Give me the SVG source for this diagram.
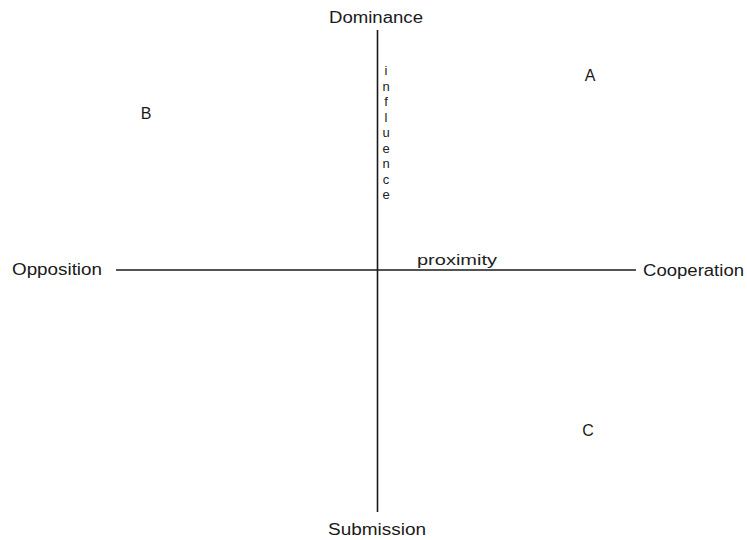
<svg xmlns="http://www.w3.org/2000/svg" width="747" height="540" viewBox="0 0 747 540">
<style>
.lbl{font-family:"Liberation Sans",Arial,sans-serif;font-size:16px;fill:#1a1a1a}
.ax{stroke:#1a1a1a;stroke-width:1.6;fill:none}
.sm{font-family:"Liberation Sans",Arial,sans-serif;font-size:15px;fill:#222}
.vl{font-family:"Liberation Sans",Arial,sans-serif;font-size:13px;fill:#222}
</style>
<rect width="747" height="540" fill="#ffffff"/>
<g id="connectors">
<line class="ax" x1="377.5" y1="30" x2="377.5" y2="512"/>
<line class="ax" x1="116" y1="270" x2="636" y2="270"/>
</g>
<g id="dominance"><text class="lbl" x="376" y="23" text-anchor="middle" textLength="94" lengthAdjust="spacingAndGlyphs">Dominance</text></g>
<g id="submission"><text class="lbl" x="377" y="535" text-anchor="middle" textLength="98" lengthAdjust="spacingAndGlyphs">Submission</text></g>
<g id="opposition"><text class="lbl" x="12" y="275" textLength="90" lengthAdjust="spacingAndGlyphs">Opposition</text></g>
<g id="cooperation"><text class="lbl" x="643" y="276" textLength="101" lengthAdjust="spacingAndGlyphs">Cooperation</text></g>
<g id="proximity"><text class="sm" x="417" y="265" textLength="80" lengthAdjust="spacingAndGlyphs">proximity</text></g>
<g id="influence" text-anchor="middle">
<text class="vl" x="386" y="75">i</text>
<text class="vl" x="386" y="90.5">n</text>
<text class="vl" x="386" y="106">f</text>
<text class="vl" x="386" y="121.5">l</text>
<text class="vl" x="386" y="137">u</text>
<text class="vl" x="386" y="152.5">e</text>
<text class="vl" x="386" y="168">n</text>
<text class="vl" x="386" y="183.5">c</text>
<text class="vl" x="386" y="199">e</text>
</g>
<g id="A"><text class="lbl" x="590" y="81" text-anchor="middle">A</text></g>
<g id="B"><text class="lbl" x="146" y="119" text-anchor="middle">B</text></g>
<g id="C"><text class="lbl" x="588" y="436" text-anchor="middle">C</text></g>
</svg>
